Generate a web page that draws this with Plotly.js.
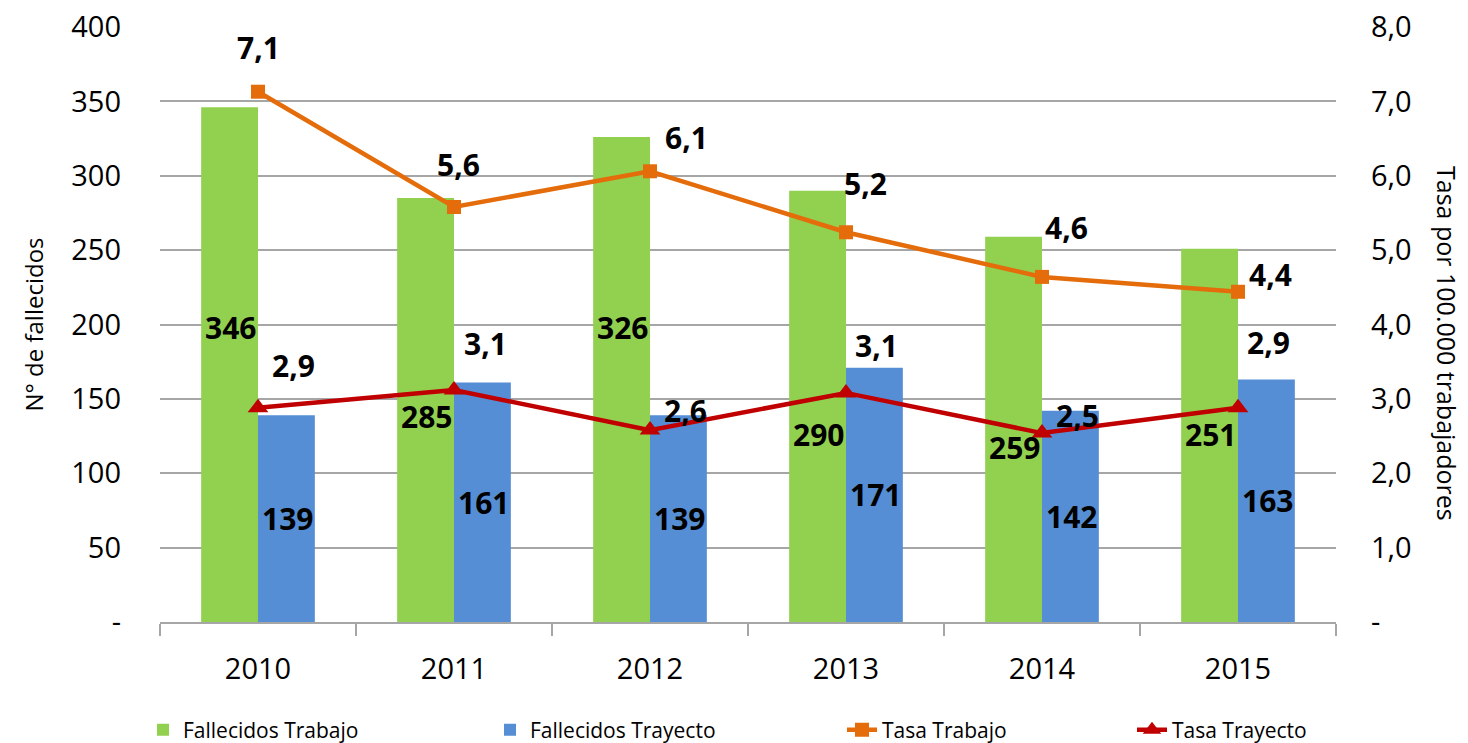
<!DOCTYPE html>
<html>
<head>
<meta charset="utf-8">
<script src="https://cdn.plot.ly/plotly-3.0.1.min.js"></script>
<style>html,body{margin:0;padding:0;background:#fff;}#chart{width:1468px;height:743px;}</style>
</head>
<body>
<div id="chart"></div>
<script>
const years = ['2010', '2011', '2012', '2013', '2014', '2015'];
const fallecidosTrabajo = [346, 285, 326, 290, 259, 251];
const fallecidosTrayecto = [139, 161, 139, 171, 142, 163];
const tasaTrabajo = [7.13, 5.58, 6.06, 5.24, 4.64, 4.44];
const tasaTrayecto = [2.88, 3.12, 2.58, 3.08, 2.54, 2.88];
const leftTickVals = [0, 50, 100, 150, 200, 250, 300, 350, 400];
const leftTickText = ['-', '50', '100', '150', '200', '250', '300', '350', '400'];
const rightTickVals = [0, 1, 2, 3, 4, 5, 6, 7, 8];
const rightTickText = ['-', '1,0', '2,0', '3,0', '4,0', '5,0', '6,0', '7,0', '8,0'];
// label placement (data units for green bars, pixel shifts for line labels)
const trabajoLabelY = [198, 138, 198, 126, 117, 126];
const tasaTrabajoShiftX = [0, 4, 36, 19, 24, 32];
const tasaTrabajoShiftY = [44, 42, 34, 49, 49, 17];
const tasaTrayectoShiftX = [35, 31, 35, 30, 35, 30];
const tasaTrayectoShiftY = [42, 46, 20, 47, 18, 65];

const FONT = 'Open Sans, Noto Sans, sans-serif';
const fmt = v => v.toFixed(1).replace('.', ',');

const traces = [
  {type: 'bar', name: 'Fallecidos Trabajo', x: years, y: fallecidosTrabajo,
   marker: {color: '#92D050'}, legend: 'legend', hoverinfo: 'y'},
  {type: 'bar', name: 'Fallecidos Trayecto', x: years, y: fallecidosTrayecto,
   marker: {color: '#558ED5'}, legend: 'legend2', hoverinfo: 'y'},
  {type: 'scatter', mode: 'lines+markers', name: 'Tasa Trabajo', x: years, y: tasaTrabajo,
   yaxis: 'y2', line: {color: '#E46C0A', width: 4.5}, marker: {symbol: 'square', size: 14, color: '#E46C0A'},
   legend: 'legend3'},
  {type: 'scatter', mode: 'lines+markers', name: 'Tasa Trayecto', x: years, y: tasaTrayecto,
   yaxis: 'y2', line: {color: '#C00000', width: 4.5}, marker: {symbol: 'triangle-up', size: 18, color: '#C00000'},
   legend: 'legend4'}
];

const annotations = [];
const labelFont = {family: FONT, size: 30, color: '#000', weight: 'bold'};
years.forEach((yr, i) => {
  annotations.push({xref: 'x', yref: 'y', x: i, y: trabajoLabelY[i], xshift: -28, text: String(fallecidosTrabajo[i]),
    showarrow: false, font: labelFont});
  annotations.push({xref: 'x', yref: 'y', x: i, y: fallecidosTrayecto[i] / 2, xshift: 29, text: String(fallecidosTrayecto[i]),
    showarrow: false, font: labelFont});
  annotations.push({xref: 'x', yref: 'y2', x: i, y: tasaTrabajo[i], xshift: tasaTrabajoShiftX[i], yshift: tasaTrabajoShiftY[i],
    text: fmt(tasaTrabajo[i]), showarrow: false, font: labelFont});
  annotations.push({xref: 'x', yref: 'y2', x: i, y: tasaTrayecto[i], xshift: tasaTrayectoShiftX[i], yshift: tasaTrayectoShiftY[i],
    text: fmt(tasaTrayecto[i]), showarrow: false, font: labelFont});
});
annotations.push({xref: 'paper', yref: 'paper', x: (1447 - 160) / 1176, y: (622 - 343) / 595, xanchor: 'center', yanchor: 'middle',
  textangle: 90, text: 'Tasa por 100.000 trabajadores', showarrow: false, font: {family: FONT, size: 25, color: '#000'}});

const legendBase = {orientation: 'h', yanchor: 'middle', xanchor: 'left', xref: 'container', yref: 'container',
  y: (743 - 730) / 743, font: {family: FONT, size: 21, color: '#000'}, bgcolor: 'rgba(0,0,0,0)'};

const layout = {
  width: 1468, height: 743,
  margin: {l: 160, r: 132, t: 27, b: 121},
  paper_bgcolor: '#fff', plot_bgcolor: '#fff',
  font: {family: FONT, color: '#000'},
  barmode: 'group', bargap: 0.42, bargroupgap: 0,
  xaxis: {type: 'category', range: [-0.5, 5.5], autorange: false, automargin: false, showline: true,
    linecolor: '#a6a6a6', linewidth: 1.5,
    ticks: 'outside', tickson: 'boundaries', ticklen: 12, tickcolor: '#a6a6a6', tickwidth: 1.5,
    tickfont: {family: FONT, size: 29, color: '#000'}, ticklabelstandoff: 20, showgrid: false, tickangle: 0},
  yaxis: {range: [0, 400], autorange: false, automargin: false, tickvals: leftTickVals, ticktext: leftTickText, showgrid: true,
    gridcolor: '#a6a6a6', gridwidth: 1.5, zeroline: false, showline: false, ticks: '',
    tickfont: {family: FONT, size: 29, color: '#000'}, ticklabelstandoff: 38,
    title: {text: 'N° de fallecidos', font: {family: FONT, size: 24, color: '#000'}, standoff: 20}},
  yaxis2: {range: [0, 8], autorange: false, automargin: false, overlaying: 'y', side: 'right',
    tickvals: rightTickVals, ticktext: rightTickText,
    showgrid: false, zeroline: false, showline: false, ticks: '',
    tickfont: {family: FONT, size: 29, color: '#000'}, ticklabelstandoff: 34},
  legend: Object.assign({}, legendBase, {x: 143 / 1468}),
  legend2: Object.assign({}, legendBase, {x: 490 / 1468}),
  legend3: Object.assign({}, legendBase, {x: 842 / 1468}),
  legend4: Object.assign({}, legendBase, {x: 1132 / 1468}),
  annotations: annotations,
  showlegend: true
};

Plotly.newPlot('chart', traces, layout, {displayModeBar: false, responsive: false});
</script>
</body>
</html>
